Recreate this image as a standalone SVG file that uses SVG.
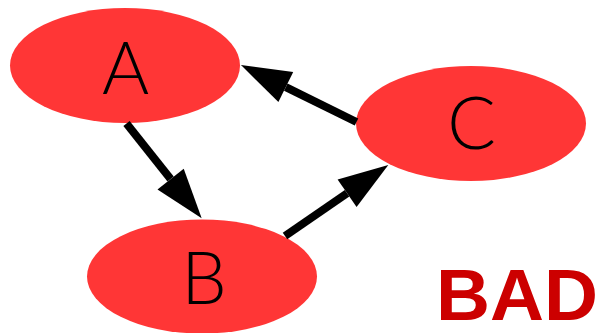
<svg xmlns="http://www.w3.org/2000/svg" width="604" height="333" viewBox="0 0 604 333">
<style>
.node ellipse { fill: #ff3636; }
.node text { font-family: Lato, "Noto Sans", "Liberation Sans", sans-serif; font-weight: 300; font-size: 72px; fill: #000; text-anchor: middle; }
.edge { stroke: #000; stroke-width: 8; fill: none; marker-end: url(#arrow); }
.bad { font-family: "Liberation Sans", Arial, sans-serif; font-weight: bold; font-size: 73px; fill: #cc0000; }
</style>
<defs>
<marker id="arrow" markerUnits="userSpaceOnUse" markerWidth="51" markerHeight="34" refX="0" refY="16.75" orient="auto" overflow="visible">
<path d="M0,0 L50,16.75 L0,33.5 Z" fill="#000"/>
</marker>
</defs>
<rect width="604" height="333" fill="#fff"/>
<g id="nodeA" class="node">
<ellipse cx="125" cy="65.5" rx="115" ry="57.5"/>
<text x="125.5" y="94">A</text>
</g>
<g id="nodeB" class="node">
<ellipse cx="202" cy="276.5" rx="115" ry="57"/>
<text x="204" y="304">B</text>
</g>
<g id="nodeC" class="node">
<ellipse cx="471" cy="123.5" rx="115" ry="57.5"/>
<text x="471.5" y="149">C</text>
</g>
<g id="edges">
<line class="edge" x1="126.5" y1="123.5" x2="170.6" y2="179.1"/>
<line class="edge" x1="285" y1="236" x2="347.1" y2="193.3"/>
<line class="edge" x1="356.5" y1="122" x2="285.8" y2="87.1"/>
</g>
<text class="bad" x="436" y="320" textLength="162" lengthAdjust="spacingAndGlyphs">BAD</text>
</svg>
